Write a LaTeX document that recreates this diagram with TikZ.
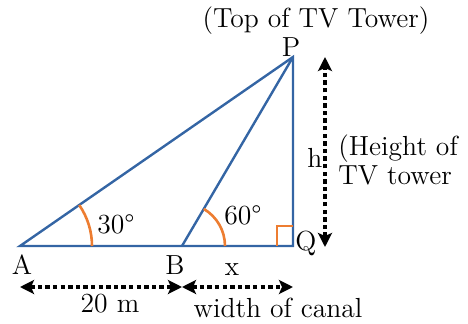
\documentclass[tikz,border=0pt]{standalone}
\usetikzlibrary{arrows.meta,calc}
\definecolor{sideblue}{RGB}{52,101,164}
\definecolor{markorange}{RGB}{237,125,49}
\tikzset{
  side/.style={sideblue, line width=1.2pt},
  anglemark/.style={markorange, line width=1.3pt},
  measure/.style={dash pattern=on 2.2pt off 1.6pt, line width=1.6pt,
    {Stealth[length=7pt,width=7pt,inset=1.5pt]}-{Stealth[length=7pt,width=7pt,inset=1.5pt]}},
  lbl/.style={font=\fontsize{13.8}{14.5}\selectfont, inner sep=0pt}
}
\begin{document}
\begin{tikzpicture}[x=0.5pt, y=-0.5pt]
    \useasboundingbox (0,0) rectangle (468,323);

    % Corner points
    \coordinate (A) at (20,246);
    \coordinate (B) at (182,246);
    \coordinate (Q) at (293,246);
    \coordinate (P) at (293,57);

    % Draw the two triangles
    \draw[side] (A) -- (Q) -- (P) -- cycle;
    \draw[side] (B) -- (P);

    % Angle marks
    \draw[anglemark] ($(A)+(72,0)$) arc[start angle=0, end angle=-34.7, radius=72];
    \draw[anglemark] ($(B)+(43,0)$) arc[start angle=0, end angle=-59.6, radius=43];
    \draw[anglemark] ($(Q)+(-16,0)$) -- ++(0,-20) -- ++(16,0);

    % Point labels
    \node[lbl] (labA) at (22,265) {A};
    \node[lbl] (labB) at (175,265) {B};
    \node[lbl] (labQ) at (306,243) {Q};
    \node[lbl] (labP) at (291,47) {P};
    \node[lbl] (ang30) at (116,224) {30°};
    \node[lbl] (ang60) at (243,215) {60°};
    \node[lbl] (top) at (316,21) {(Top of TV Tower)};

    % Height of the tower
    \coordinate (hTop) at (325,57);
    \coordinate (hFoot) at (325,247);
    \draw[measure] (hFoot) -- (hTop);
    \node[lbl] (labh) at (315,158) {h};
    \node[lbl, align=left, anchor=west] (height) at (338,160) {(Height of\\TV tower};

    % Distances along the ground
    \coordinate (dA) at (20,287);
    \coordinate (dB) at (182,287);
    \coordinate (dQ) at (293,287);
    \draw[measure] (dA) -- (dB);
    \draw[measure] (dB) -- (dQ);
    \node[lbl] (labx) at (232,270) {x};
    \node[lbl] (dist) at (110,304) {20 m};
    \node[lbl] (canal) at (278,308) {width of canal};

\end{tikzpicture}
\end{document}
